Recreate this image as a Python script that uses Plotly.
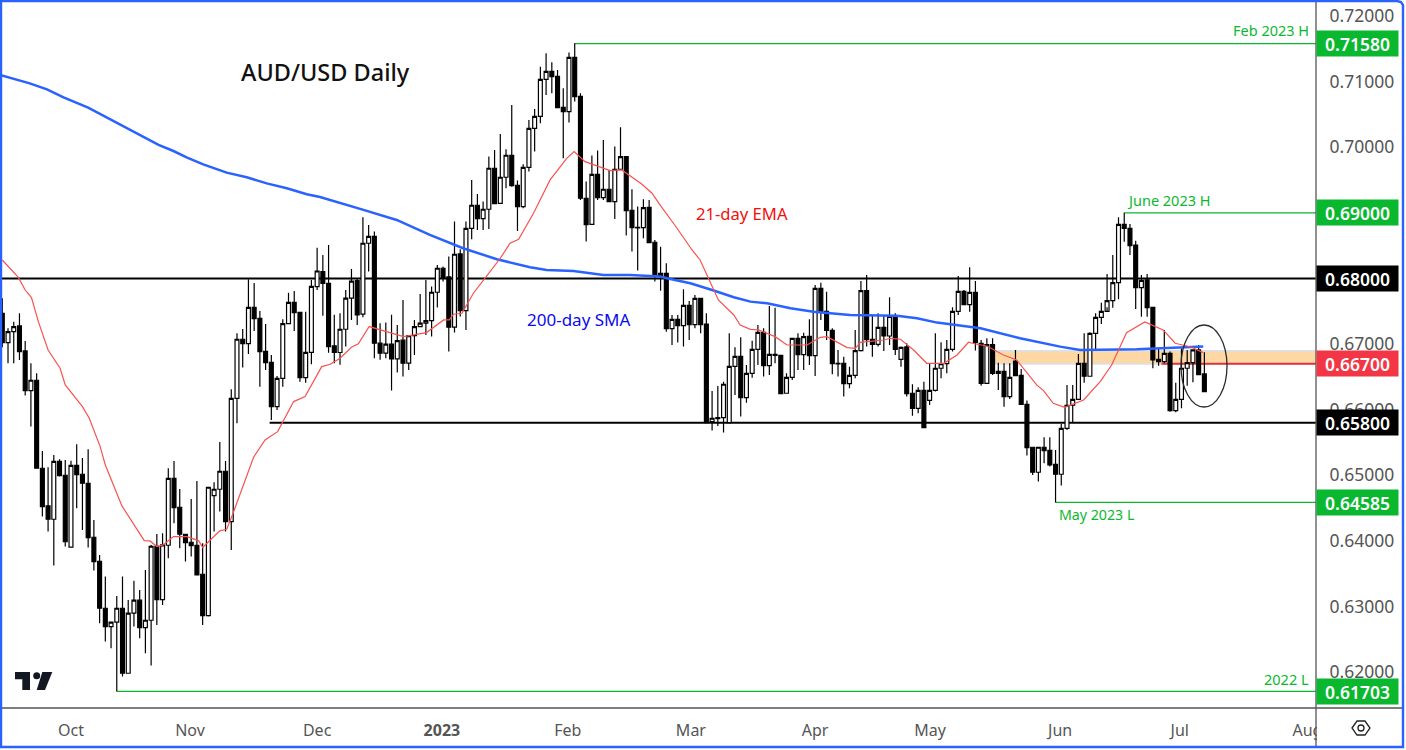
import plotly.graph_objects as go

# daily candles, oldest first
highs = [.67696,.67239,.67341,.67468,.67046,.66706,.66553,.65370,.65121,.65309,.65243,.65233,.65222,.65471,.65263,.65395,.64318,.63785,.63455,.62769,
         .63160,.63455,.63099,.63389,.63251,.63556,.63937,.64105,.64115,.65106,.65217,.64791,.64105,.64638,.64913,.63963,.64816,.64892,.65507,.65217,
         .66309,.67163,.67229,.67986,.67930,.67503,.67305,.66833,.66513,.67376,.67783,.67808,.67488,.67493,.67976,.68468,.68356,.68509,.67444,.67469,
         .67825,.68145,.68002,.68932,.68815,.68714,.67317,.67327,.67444,.67291,.67672,.67139,.67367,.67764,.67977,.67875,.68206,.68180,.68333,.68866,
         .68444,.68866,.69501,.69288,.69171,.69857,.69958,.70202,.69968,.70644,.69491,.69740,.70415,.70583,.71228,.71431,.71294,.71177,.70898,.71442,
         .71584,.70822,.69476,.69872,.69948,.70111,.69653,.70009,.70304,.69867,.69359,.69095,.69206,.69196,.68587,.68484,.68230,.67442,.67442,.67834,
         .67656,.67747,.67696,.67468,.66284,.66360,.66426,.67163,.66950,.67102,.66680,.67051,.67290,.67239,.67580,.67554,.66833,.66553,.67087,.67163,
         .67173,.67376,.67900,.67935,.67798,.67239,.66909,.66807,.66655,.67214,.67961,.68052,.67442,.67468,.67442,.67712,.67468,.66960,.67011,.66386,
         .66340,.66426,.66706,.67163,.67026,.67061,.67559,.68037,.67823,.68169,.67961,.67061,.67087,.67087,.66716,.66706,.66706,.66909,.66619,.66137,
         .65426,.65426,.65578,.65578,.65385,.65781,.66376,.66376,.66848,.67163,.67178,.67468,.67630,.68067,.68357,.68931,.69000,.68829,.68575,.68052,
         .68067,.67569,.66934,.67214,.66884,.66411,.66934,.66909,.66909,.66985,.66873]
lows = [.66950,.66706,.66706,.66757,.66213,.65741,.65106,.64369,.64140,.63622,.64979,.63912,.63902,.64496,.64166,.63897,.63546,.62743,.62464,.62362,
        .61703,.61931,.61981,.62693,.62515,.62286,.62098,.62718,.63023,.63734,.64267,.63886,.63683,.63759,.63470,.62718,.62845,.64140,.64445,.64140,
        .63861,.65791,.66640,.66848,.67199,.66350,.66604,.65842,.65995,.66350,.67315,.67199,.66426,.66411,.66691,.67823,.67432,.66868,.66707,.66682,
        .66961,.67367,.67291,.67408,.68104,.66783,.66758,.66783,.66290,.66565,.66504,.66605,.66834,.67266,.67139,.67114,.67555,.67951,.66885,.67174,
        .67418,.67215,.68597,.68739,.68739,.68754,.69135,.69145,.69374,.69399,.68724,.69069,.69628,.69933,.70365,.70796,.70822,.70593,.69831,.70375,
        .70695,.69196,.68561,.68820,.69196,.69196,.69161,.68907,.69653,.68653,.68409,.68119,.68612,.68536,.67952,.67813,.67188,.66985,.67021,.66960,
        .67061,.67239,.67163,.65791,.65680,.65751,.65649,.65791,.66223,.65893,.66106,.66487,.66680,.66503,.66528,.66706,.66238,.66249,.66452,.66604,
        .66604,.66680,.66513,.67366,.67061,.66538,.66503,.66198,.66325,.66477,.66884,.66960,.66807,.66960,.66894,.66985,.66833,.66655,.66200,.65908,
        .65944,.65725,.66071,.66274,.66477,.66553,.66884,.67442,.67595,.67493,.66899,.66365,.66401,.66528,.66299,.66045,.66162,.66604,.66081,.65299,
        .65004,.64902,.65182,.65131,.64582,.64841,.65690,.65802,.66147,.66411,.66503,.66919,.67305,.67559,.67554,.67681,.68560,.68357,.67534,.67417,
        .67417,.66630,.66670,.66706,.65969,.65959,.66020,.66365,.66416,.66528,.66274]
body_tops = [.67468,.67188,.67265,.67275,.66894,.66447,.66447,.65106,.64531,.65212,.65212,.64999,.65151,.65151,.65014,.64877,.64054,.63688,.62972,.62759,
             .62972,.62972,.62896,.63094,.63094,.62789,.63917,.63917,.63937,.64953,.64953,.64511,.64100,.63978,.63932,.63490,.64816,.64786,.65060,.65060,
             .66172,.67072,.67072,.67559,.67559,.67392,.66889,.66721,.66477,.67310,.67635,.67635,.67483,.66873,.67879,.68113,.68103,.67925,.66971,.67225,
             .67698,.67957,.67967,.68536,.68642,.68642,.67012,.66997,.66997,.67052,.67058,.67129,.67266,.67317,.67357,.67789,.68155,.68155,.68023,.68368,
             .68373,.68764,.69115,.69115,.69054,.69679,.69679,.69542,.69877,.69877,.69420,.69694,.70288,.70471,.71035,.71157,.71157,.71081,.70608,.71370,
             .71370,.70776,.69222,.69587,.69587,.69359,.69359,.69664,.69857,.69857,.69039,.68780,.69079,.69084,.68551,.68077,.68077,.67376,.67376,.67590,
             .67590,.67696,.67696,.67305,.65868,.65878,.66386,.66660,.66812,.66812,.66553,.66919,.67178,.67178,.66843,.66843,.66828,.66492,.67087,.67087,
             .67112,.67117,.67849,.67849,.67498,.67209,.66706,.66706,.66523,.66899,.67813,.67813,.67072,.67254,.67254,.67422,.67427,.66950,.66955,.66249,
             .66294,.66294,.66294,.66630,.66701,.66919,.67498,.67803,.67803,.67788,.67788,.67011,.66990,.66990,.66584,.66584,.66492,.66741,.66523,.66081,
             .65426,.65426,.65426,.65380,.65166,.65715,.66066,.66157,.66706,.66706,.67163,.67407,.67498,.67661,.67935,.68824,.68824,.68763,.68509,.67971,
             .67976,.67559,.66767,.66858,.66858,.66157,.66630,.66716,.66909,.66909,.66543]
body_bottoms = [.67021,.67021,.67188,.66884,.66289,.66289,.65106,.64521,.64328,.64328,.64994,.63988,.63902,.65009,.64877,.64049,.63683,.62972,.62693,.62693,
                .62759,.61981,.61981,.62896,.62677,.62677,.62789,.63104,.63104,.63932,.64506,.64100,.63973,.63927,.63480,.62860,.62860,.64689,.64786,.64293,
                .64293,.66172,.67006,.67006,.67386,.66884,.66716,.66045,.66045,.66477,.67310,.67478,.66487,.66487,.66873,.67874,.67925,.66960,.66870,.66870,
                .67225,.67698,.67444,.67454,.68536,.67012,.66860,.66860,.66773,.66773,.66707,.66707,.67129,.67266,.67317,.67357,.67789,.68002,.67256,.67256,
                .67510,.67510,.68764,.68912,.68912,.69054,.69140,.69145,.69542,.69415,.69095,.69095,.69694,.70288,.70471,.71035,.71076,.70603,.70542,.70542,
                .70771,.69222,.68820,.68825,.69232,.69232,.69171,.69171,.69664,.69034,.68775,.68770,.68775,.68546,.68038,.68047,.67234,.67234,.67280,.67280,
                .67295,.67295,.67295,.65802,.65817,.65862,.65878,.65802,.66660,.66183,.66183,.66553,.66919,.66670,.66670,.66828,.66243,.66249,.66492,.66838,
                .66838,.66823,.66823,.67493,.67209,.66701,.66696,.66396,.66396,.66523,.66899,.67066,.66995,.66995,.67122,.67122,.66919,.66767,.66243,.66020,
                .66020,.65725,.66142,.66294,.66630,.66701,.66919,.67498,.67600,.67600,.67021,.66401,.66401,.66553,.66553,.66198,.66198,.66518,.66081,.65421,
                .65045,.65045,.65375,.65156,.65014,.65014,.65715,.66066,.66157,.66508,.66508,.67163,.67407,.67498,.67661,.67935,.68763,.68499,.67859,.67859,
                .67554,.66757,.66731,.66731,.65984,.65984,.66157,.66630,.66716,.66533,.66274]
# True where the candle closed above its open (white body)
up_candles = [0,1,1,0,0,1,0,0,0,1,0,0,1,0,0,0,0,0,0,1,
              1,0,1,1,0,1,1,0,1,1,0,0,0,0,0,0,1,1,1,0,
              1,1,0,1,0,0,0,0,1,1,1,0,0,1,1,1,0,0,0,1,
              1,1,0,1,1,0,0,1,0,1,0,1,1,1,1,1,1,0,0,1,
              0,1,1,0,1,1,0,1,1,0,0,1,1,1,1,1,0,0,0,1,
              0,0,0,1,0,1,0,1,1,0,0,0,1,0,0,1,0,1,0,1,
              0,1,0,0,1,0,1,1,1,0,1,1,1,0,1,0,0,1,1,0,
              1,0,1,0,0,0,0,0,1,1,1,0,0,1,0,1,0,1,0,0,
              1,0,1,1,1,1,1,1,0,1,0,0,1,0,1,0,1,0,0,0,
              0,1,0,0,0,1,1,1,1,0,1,1,1,1,1,1,0,0,0,1,
              0,0,0,1,0,1,1,1,1,0,0]

ema_days = [0,1.3,2.8,4,5.1,6.3,8,10.1,11,14,15.2,17.1,18,20.9,24.8,25.8,27,28.1,29.9,32.2,34.3,35,38,39.2,40.1,43.9,45.9,48.1,50.9,52.9,55.8,57.3,
            59,61,62.2,64.1,67.7,70.1,74.1,77.1,78.1,78.8,80.3,82.3,84.3,87,88.7,90.2,92.8,95.7,98.6,99.9,101.8,106.2,108.2,111.7,113.5,114.9,117.5,
            120.5,121.9,123.4,125.1,127.8,128.9,130.7,132.1,135,137.1,140.6,142.9,144.1,147.6,149,149.9,154,155.1,156.9,159.2,161.5,164.5,166.8,168.8,170,
            172,174.9,177.2,180.7,181.9,183.6,185.6,188.9,191.8,193.8,196.4,199.6,202.8,204.9,207.8,209.8]
ema_values = [.68281,.68154,.68016,.67823,.67707,.67341,.66909,.66630,.66376,.66045,.65868,.65436,.65156,.64532,.64003,.63998,.63912,.63937,.64064,.64064,.64003,.63897,.64151,.64176,.64369,.65273,.65537,.65664,.66122,.66198,.66655,.66691,
              .66783,.66951,.67002,.67266,.67174,.67113,.67174,.67367,.67367,.67454,.67469,.67774,.68002,.68307,.68536,.68597,.68993,.69501,.69831,.69933,.69780,.69643,.69653,.69440,.69298,.69120,.68810,
              .68433,.68281,.68001,.67671,.67442,.67290,.67224,.67214,.67112,.66985,.66985,.67102,.67112,.66945,.66934,.67026,.67061,.67087,.67072,.66909,.66706,.66706,.66833,.67026,.67000,
              .66970,.66833,.66757,.66376,.66289,.66096,.66035,.66147,.66426,.66680,.67173,.67336,.67214,.67011,.66950,.66868]

sma_days = [-0.4,2.5,4.8,7.8,10.7,15,17.7,20.3,22.3,25,27.3,29.9,32.2,35.1,39.2,42.7,46.2,49.7,53.2,55.5,59,63.1,68.9,74.7,80.5,86.4,92.2,95.1,99.8,105,109.7,114.9,116.1,120.2,124,127.8,130.7,133.6,137.7,141.7,148.1,156.3,159.8,163.3,170.9,172.5,177.8,184.8,188.3,198.2,209.8]
sma_values = [.71101,.71034,.70973,.70882,.70760,.70603,.70476,.70354,.70272,.70135,.70034,.69942,.69846,.69739,.69612,.69541,.69449,.69373,.69282,.69241,.69145,.69044,.68891,.68663,.68460,.68292,.68170,.68129,.68114,.68053,.68053,.68028,.68001,.67925,.67823,.67712,.67646,.67620,.67544,.67493,.67442,.67432,.67392,.67326,.67239,.67204,.67087,.66960,.66909,.66919,.66960]

# 0.68 and 0.69 sit fully behind their price tags in the picture
price_ticks = [0.62,0.63,0.64,0.65,0.66,0.67,0.70,0.71,0.72]
month_days = [12,32.8,55,76.8,98.8,120.3,142,162.1,184.8,205.7,228]
month_labels = ['Oct','Nov','Dec','<b>2023</b>','Feb','Mar','Apr','May','Jun','Jul','Aug']

# level, first candle of the line
support_resistance = [(0.68, -0.4), (0.658, 46.7)]
green_levels = [(0.7158, 100), (0.69, 196), (0.64585, 184), (0.61703, 20)]
zone_low, zone_high = 0.66695, 0.66898
zone_start = 173.4

price_tags = [(0.7158,'0.71580','#0ab830'), (0.69,'0.69000','#0ab830'), (0.68,'0.68000','#000000'),
              (0.667,'0.66700','#f23645'), (0.658,'0.65800','#000000'), (0.64585,'0.64585','#0ab830'),
              (0.61703,'0.61703','#0ab830')]

X_MAX = 229.5
W_PLOT, H_PLOT = 1316, 708
GREEN, FONT = '#0ab830', 'Noto Sans'


def xp(px):
    return px / W_PLOT


def yp(py):
    return 1 - py / H_PLOT


def pixel_path(points, close=True):
    parts = [f"{'M' if i == 0 else 'L'}{xp(x):.5f},{yp(y):.5f}" for i, (x, y) in enumerate(points)]
    return ' '.join(parts) + (' Z' if close else '')


opens = [b if u else t for t, b, u in zip(body_tops, body_bottoms, up_candles)]
closes = [t if u else b for t, b, u in zip(body_tops, body_bottoms, up_candles)]

fig = go.Figure()
fig.add_trace(go.Candlestick(
    x=list(range(len(opens))), open=opens, high=highs, low=lows, close=closes,
    increasing=dict(line=dict(color='#000000', width=1.2), fillcolor='#ffffff'),
    decreasing=dict(line=dict(color='#000000', width=1.2), fillcolor='#000000'),
    whiskerwidth=0, hoverinfo='skip', showlegend=False,
))
fig.add_trace(go.Scatter(x=sma_days, y=sma_values, mode='lines', line=dict(color='#2962ff', width=2.5),
                         hoverinfo='skip', showlegend=False))
fig.add_trace(go.Scatter(x=ema_days, y=ema_values, mode='lines', line=dict(color='#f7524f', width=1.2),
                         hoverinfo='skip', showlegend=False))

# --- levels, all under the candles ---
fig.add_shape(type='rect', xref='x', yref='y', x0=zone_start, x1=X_MAX, y0=zone_low, y1=zone_high,
              fillcolor='#fdd8a5', line_width=0, layer='below')
for level in (zone_low, zone_high):
    fig.add_shape(type='line', xref='x', yref='y', x0=zone_start, x1=X_MAX, y0=level, y1=level,
                  line=dict(color='#d6e0f0', width=1.5), layer='below')
for level, start in support_resistance:
    fig.add_shape(type='line', xref='x', yref='y', x0=start, x1=X_MAX, y0=level, y1=level,
                  line=dict(color='#000000', width=2), layer='below')
for level, start in green_levels:
    fig.add_shape(type='line', xref='x', yref='y', x0=start, x1=X_MAX, y0=level, y1=level,
                  line=dict(color=GREEN, width=1.3), layer='below')
fig.add_shape(type='line', xref='x', yref='y', x0=202.5, x1=X_MAX, y0=0.667, y1=0.667,
              line=dict(color='#e0343c', width=2), layer='below')

# circle around the last candles
fig.add_shape(type='circle', xref='paper', yref='paper', x0=xp(1181), x1=xp(1227), y0=yp(325), y1=yp(407),
              line=dict(color='#2b2b2b', width=1.3))

# frame and axis rules
fig.add_shape(type='rect', xref='paper', yref='paper', x0=xp(1317), x1=xp(1402), y0=yp(709), y1=yp(745),
              fillcolor='#ffffff', line_width=0)
fig.add_shape(type='line', xref='paper', yref='paper', x0=xp(1316), x1=xp(1316), y0=yp(0), y1=yp(747),
              line=dict(color='#555555', width=1.3))
fig.add_shape(type='line', xref='paper', yref='paper', x0=xp(0), x1=xp(1403), y0=yp(708), y1=yp(708),
              line=dict(color='#555555', width=1.3))
fig.add_shape(type='path', xref='paper', yref='paper',
              path=pixel_path([(1, 747), (1, 1), (1397, 1), (1401, 2), (1403, 5), (1403, 747)]),
              line=dict(color='#2962ff', width=2.4))

# settings hexagon
fig.add_shape(type='path', xref='paper', yref='paper',
              path=pixel_path([(1352, 728), (1357, 721), (1365, 721), (1370, 728), (1365, 735), (1357, 735)]),
              line=dict(color='#222222', width=1.3))
fig.add_shape(type='circle', xref='paper', yref='paper', x0=xp(1358), x1=xp(1364), y0=yp(725), y1=yp(731),
              line=dict(color='#222222', width=1.3))

# TradingView mark
for pts in ([(15, 672), (30, 672), (30, 690), (22.3, 690), (22.3, 679.3), (15, 679.3)],
            [(42.3, 672), (52.3, 672), (45, 690), (36.7, 690)]):
    fig.add_shape(type='path', xref='paper', yref='paper', path=pixel_path(pts), fillcolor='#131722', line_width=0)
fig.add_shape(type='circle', xref='paper', yref='paper', x0=xp(33.2), x1=xp(40.2), y0=yp(672.2), y1=yp(679.2),
              fillcolor='#131722', line_width=0)

# --- labels ---
for level, text, color in price_tags:
    fig.add_annotation(xref='paper', yref='y', x=1, y=level, xanchor='left', yanchor='middle', text=text,
                       showarrow=False, bgcolor=color, width=81, height=25, borderpad=0,
                       font=dict(family=FONT, size=17.5, color='#ffffff', weight=600))

chart_texts = [
    ('AUD/USD Daily', 240, 72, 'left', '#111111', 23.5, 500),
    ('Feb 2023 H', 1310, 30, 'right', GREEN, 14.5, 400),
    ('June 2023 H', 1126, 200, 'left', GREEN, 14.5, 400),
    ('May 2023 L', 1058, 514, 'left', GREEN, 14.2, 400),
    ('2022 L', 1310, 679, 'right', GREEN, 14.5, 400),
    ('21-day EMA', 695, 214, 'left', '#f2100c', 16.6, 400),
    ('200-day SMA', 526, 319, 'left', '#0b0bf0', 17, 400),
]
for text, px, py, anchor, color, size, weight in chart_texts:
    fig.add_annotation(xref='paper', yref='paper', x=xp(px), y=yp(py), xanchor=anchor, yanchor='middle',
                       text=text, showarrow=False, borderpad=0,
                       font=dict(family=FONT, size=size, color=color, weight=weight))

fig.update_layout(
    width=1406, height=750,
    margin=dict(l=0, r=90, t=0, b=42),
    paper_bgcolor='#ffffff', plot_bgcolor='#ffffff',
    showlegend=False, boxgap=0.2, boxgroupgap=0.15, dragmode=False,
    xaxis=dict(range=[-0.4, X_MAX], rangeslider_visible=False, showgrid=False, zeroline=False, showline=False,
               tickmode='array', tickvals=month_days, ticktext=month_labels,
               ticks='outside', ticklen=8, tickcolor='rgba(0,0,0,0)',
               tickfont=dict(family=FONT, size=16, color='#555555')),
    yaxis=dict(range=[0.61451, 0.72244], side='right', showgrid=False, zeroline=False, showline=False,
               tickmode='array', tickvals=price_ticks, tickformat='.5f',
               ticks='outside', ticklen=9, tickcolor='rgba(0,0,0,0)',
               tickfont=dict(family=FONT, size=17.5, color='#555555')),
)

fig.write_html("out.html", config={'displayModeBar': False},
               post_script="document.body.style.margin='0';")
